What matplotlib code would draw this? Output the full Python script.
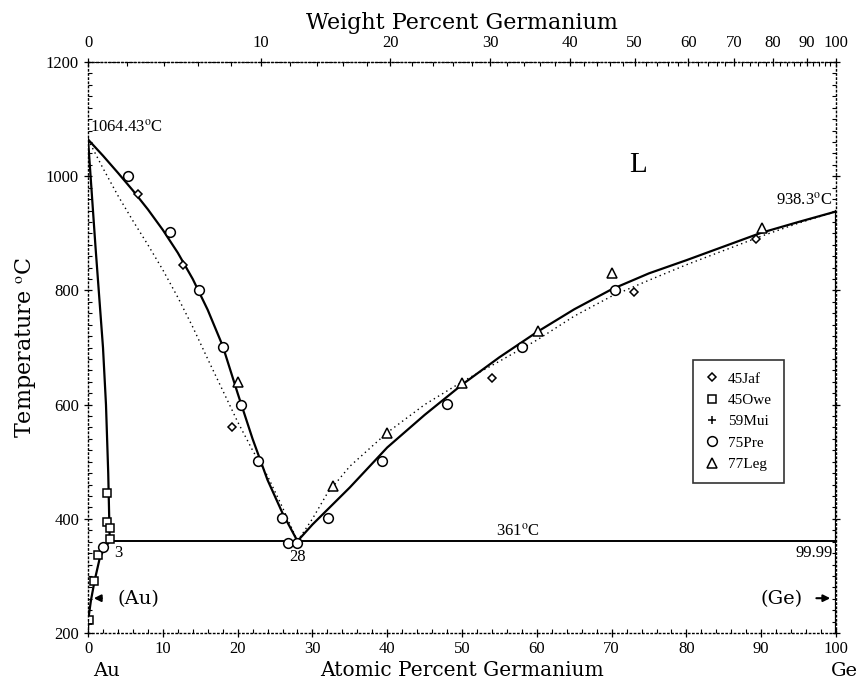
import numpy as np
import matplotlib.pyplot as plt
from matplotlib.ticker import MultipleLocator

plt.rcParams['font.family'] = ['Liberation Serif', 'DejaVu Serif']
plt.rcParams['mathtext.fontset'] = 'stix'

# 原子量，用于上方重量百分比坐标换算
M_GE = 72.61
M_AU = 196.97

# 液相线（实线）
liq_left_x = [0, 2, 4, 6, 8, 10, 12, 14, 16, 18, 20, 22, 24, 26, 28]
liq_left_t = [1064.43, 1036, 1006, 975, 942, 906, 866, 820, 766, 703, 620, 540, 468, 410, 361]
liq_right_x = [28, 30, 35, 40, 45, 50, 55, 60, 65, 70, 75, 80, 85, 90, 95, 100]
liq_right_t = [361, 390, 455, 525, 582, 635, 683, 727, 767, 802, 830, 853, 877, 901, 920, 938.3]

# 液相线（虚线，另一种评估）
dot_left_x = [0, 2, 4, 6, 8, 10, 12, 14, 16, 18, 20, 22, 24, 26, 28]
dot_left_t = [1064.43, 1014, 966, 922, 880, 836, 788, 736, 680, 625, 570, 520, 475, 420, 361]
dot_right_x = [28, 30, 32, 35, 40, 45, 50, 55, 60, 65, 70, 75, 80, 85, 90, 95, 100]
dot_right_t = [361, 400, 445, 492, 551, 600, 640, 676, 713, 755, 790, 818, 845, 870, 895, 918, 938.3]

# (Au) 固相线和固溶度线
sol_x = [0, 1.0, 2.0, 2.4, 2.7, 2.9]
sol_t = [1064.43, 876, 700, 600, 480, 361]
solvus_x = [2.9, 2.3, 1.6, 0.9, 0.4, 0.1, 0.0]
solvus_t = [361, 350, 333, 293, 258, 230, 210]

eut_x = [2.9, 100]
eut_t = [361, 361]
ge_x = [100, 100]
ge_t = [938.3, 200]

# 实验数据
jaf_x = [6.7, 12.7, 19.3, 54.0, 73.0, 89.3]
jaf_t = [969, 845, 561, 647, 797, 890]
owe_x = [2.6, 2.6, 2.9, 3.0, 1.3, 0.8, 0.1]
owe_t = [445, 395, 384, 365, 337, 291, 223]
mui_x = [0.0]
mui_t = [215]
pre_x = [5.35, 11.0, 14.8, 18.05, 20.45, 22.7, 25.9, 26.7, 27.9, 32.1, 39.3, 48.0, 58.0, 70.5, 2.0]
pre_t = [1000, 902, 801, 701, 599, 501, 401, 358, 358, 401, 501, 601, 701, 801, 351]
leg_x = [20.05, 32.8, 40.0, 50.0, 60.2, 70.1, 90.1]
leg_t = [640, 457, 550, 638, 729, 830, 909]

wt_ticks = [0, 10, 20, 30, 40, 50, 60, 70, 80, 90, 100]


def at_to_wt(x):
    x = np.asarray(x, dtype=float)
    return 100 * x * M_GE / (x * M_GE + (100 - x) * M_AU)


def wt_to_at(w):
    w = np.asarray(w, dtype=float)
    return 100 * (w / M_GE) / (w / M_GE + (100 - w) / M_AU)


fig = plt.figure(figsize=(8.58, 6.82), dpi=100)
ax = fig.add_axes([0.1026, 0.0718, 0.8718, 0.8372])

ax.plot(liq_left_x, liq_left_t, color='k', lw=1.6)
ax.plot(liq_right_x, liq_right_t, color='k', lw=1.6)
ax.plot(dot_left_x, dot_left_t, color='k', lw=1.0, ls=(0, (1, 2.5)))
ax.plot(dot_right_x, dot_right_t, color='k', lw=1.0, ls=(0, (1, 2.5)))
ax.plot(sol_x, sol_t, color='k', lw=1.6)
ax.plot(solvus_x, solvus_t, color='k', lw=1.6)
ax.plot(eut_x, eut_t, color='k', lw=1.4)
ax.plot(ge_x, ge_t, color='k', lw=1.6)

mk = dict(ls='none', mfc='white', mec='k', mew=1.1)
ax.plot(jaf_x, jaf_t, marker='D', ms=4.5, label='45Jaf', **mk)
ax.plot(owe_x, owe_t, marker='s', ms=6, label='45Owe', **mk)
ax.plot(mui_x, mui_t, marker='+', ms=6, label='59Mui', **mk)
ax.plot(pre_x, pre_t, marker='o', ms=7, label='75Pre', **mk)
ax.plot(leg_x, leg_t, marker='^', ms=6.5, label='77Leg', **mk)

# 文字标注
ax.text(0.2, 1072, r'1064.43$^{\rm o}$C', fontsize=12, ha='left', va='bottom')
ax.text(99.5, 944, r'938.3$^{\rm o}$C', fontsize=12, ha='right', va='bottom')
ax.text(57.5, 364, r'361$^{\rm o}$C', fontsize=12, ha='center', va='bottom')
ax.text(73.5, 1020, 'L', fontsize=21, ha='center', va='center')
ax.text(3.5, 340, '3', fontsize=12, ha='left', va='center')
ax.text(28, 334, '28', fontsize=12, ha='center', va='center')
ax.text(99.5, 340, '99.99', fontsize=12, ha='right', va='center')
ax.text(4.0, 260, '(Au)', fontsize=14, family=['DejaVu Serif'], ha='left', va='center')
ax.text(95.5, 260, '(Ge)', fontsize=14, family=['DejaVu Serif'], ha='right', va='center')
ax.annotate('', xy=(0.4, 261), xytext=(2.2, 261),
            arrowprops=dict(arrowstyle='-|>', color='k', lw=1.5, mutation_scale=10))
ax.annotate('', xy=(99.6, 261), xytext=(97.0, 261),
            arrowprops=dict(arrowstyle='-|>', color='k', lw=1.5, mutation_scale=10))

ax.set_xlim(0, 100)
ax.set_ylim(200, 1200)
ax.set_xticks(np.arange(0, 101, 10))
ax.set_yticks(np.arange(200, 1201, 200))
ax.xaxis.set_minor_locator(MultipleLocator(2))
ax.yaxis.set_minor_locator(MultipleLocator(20))
ax.tick_params(which='major', direction='inout', length=6, width=0.9, labelsize=12)
ax.tick_params(axis='x', which='major', pad=3)
ax.tick_params(which='minor', direction='in', length=3, width=0.8)
ax.tick_params(axis='y', right=True, which='both')

for s in ax.spines.values():
    s.set_linestyle((0, (1, 2)))
    s.set_linewidth(1.0)

ax.set_ylabel(r'Temperature $^{\rm o}$C', fontsize=16, family=['DejaVu Serif'], labelpad=6)
ax.text(0.5, -0.066, 'Atomic Percent Germanium', transform=ax.transAxes, fontsize=14.5,
        family=['DejaVu Serif'], ha='center', va='center')
ax.text(0.025, -0.066, 'Au', transform=ax.transAxes, fontsize=14, family=['DejaVu Serif'],
        ha='center', va='center')
ax.text(1.0105, -0.066, 'Ge', transform=ax.transAxes, fontsize=14, family=['DejaVu Serif'],
        ha='center', va='center')

top = ax.secondary_xaxis('top', functions=(at_to_wt, wt_to_at))
top.set_xticks(wt_ticks)
top.xaxis.set_minor_locator(MultipleLocator(2))
top.tick_params(which='major', direction='inout', length=6, width=0.9, labelsize=12, pad=5)
top.tick_params(which='minor', direction='in', length=3, width=0.8)
top.spines['top'].set_linestyle((0, (1, 2)))
ax.text(0.5, 1.068, 'Weight Percent Germanium', transform=ax.transAxes, fontsize=16,
        family=['DejaVu Serif'], ha='center', va='center')

leg = ax.legend(loc='upper left', bbox_to_anchor=(0.798, 0.492), fontsize=11,
                frameon=True, fancybox=False, edgecolor='k', handletextpad=0.5,
                handlelength=1.0, borderpad=0.8, labelspacing=0.5)
leg.get_frame().set_linewidth(1.2)

plt.savefig('out.png', dpi=100)
